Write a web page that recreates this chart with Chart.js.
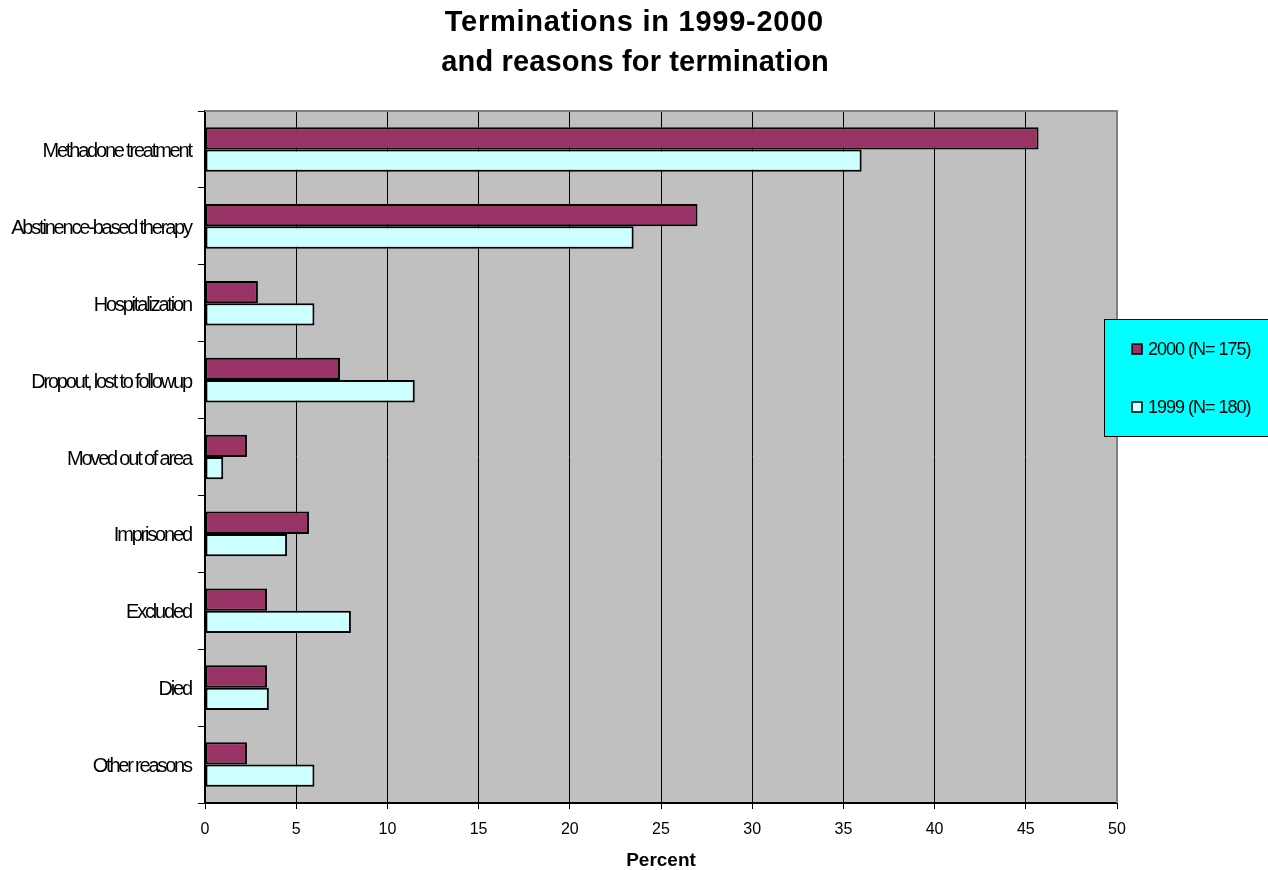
<!DOCTYPE html>
<html>
<head>
<meta charset="utf-8">
<title>Terminations in 1999-2000</title>
<script src="https://cdn.jsdelivr.net/npm/chart.js@4/dist/chart.umd.min.js"></script>
<style>
  html, body { margin: 0; padding: 0; background: #ffffff; }
  #wrap { position: relative; width: 1268px; height: 870px; }
</style>
</head>
<body>
<div id="wrap"><canvas id="chart" width="1268" height="870"></canvas></div>
<script>
// Reasons for termination, percentages per year
const categories = [
  'Methadone treatment',
  'Abstinence-based therapy',
  'Hospitalization',
  'Dropout, lost to followup',
  'Moved out of area',
  'Imprisoned',
  'Excluded',
  'Died',
  'Other reasons'
];
const values2000 = [45.7, 27.0, 2.9, 7.4, 2.3, 5.7, 3.4, 3.4, 2.3];
const values1999 = [36.0, 23.5, 6.0, 11.5, 1.0, 4.5, 8.0, 3.5, 6.0];
const seriesLabels = ['2000 (N= 175)', '1999 (N= 180)'];
const titleLines = ['Terminations in 1999-2000', 'and reasons for termination'];
const xAxisTitle = 'Percent';

const sansFont = '"Liberation Sans", Arial, sans-serif';

// Text with adjusted tracking; falls back to a horizontal stretch
function drawTracked(ctx, text, x, y, spacing, align) {
  ctx.save();
  ctx.textAlign = align;
  if ('letterSpacing' in ctx) {
    ctx.letterSpacing = spacing + 'px';
    let shift = 0;
    if (align === 'right') shift = spacing;
    if (align === 'center') shift = spacing / 2;
    ctx.fillText(text, x + shift, y);
  } else {
    const plain = ctx.measureText(text).width;
    const k = Math.max(0.5, (plain + spacing * text.length) / plain);
    ctx.translate(x, y);
    ctx.scale(k, 1);
    ctx.fillText(text, 0, 0);
  }
  ctx.restore();
}

// Gray plot background plus the gray frame on top and right
const plotFrame = {
  id: 'plotFrame',
  beforeDraw(chart) {
    const { ctx, chartArea: a } = chart;
    ctx.save();
    ctx.fillStyle = '#c0c0c0';
    ctx.fillRect(a.left, a.top, a.right - a.left, a.bottom - a.top);
    ctx.restore();
  },
  afterDraw(chart) {
    const { ctx, chartArea: a } = chart;
    ctx.save();
    ctx.strokeStyle = '#808080';
    ctx.lineWidth = 2;
    ctx.beginPath();
    ctx.moveTo(a.left, a.top);
    ctx.lineTo(a.right, a.top);
    ctx.lineTo(a.right, a.bottom);
    ctx.stroke();
    ctx.restore();
  }
};

// Category names beside the y axis, set tight
const categoryLabels = {
  id: 'categoryLabels',
  afterDraw(chart) {
    const ctx = chart.ctx;
    const y = chart.scales.y;
    ctx.save();
    ctx.fillStyle = '#000000';
    ctx.font = '20px ' + sansFont;
    ctx.textBaseline = 'middle';
    chart.data.labels.forEach((name, i) => {
      drawTracked(ctx, name, y.right - 12, y.getPixelForTick(i) + 2, -2.2, 'right');
    });
    ctx.restore();
  }
};

// Two-line heading
const heading = {
  id: 'heading',
  afterDraw(chart) {
    const ctx = chart.ctx;
    ctx.save();
    ctx.fillStyle = '#000000';
    ctx.font = 'bold 29px ' + sansFont;
    ctx.textBaseline = 'alphabetic';
    drawTracked(ctx, titleLines[0], 634, 31, 0.75, 'center');
    drawTracked(ctx, titleLines[1], 635, 71, 0.15, 'center');
    ctx.restore();
  }
};

// Boxed legend on the right edge
const boxLegend = {
  id: 'boxLegend',
  afterDraw(chart) {
    const ctx = chart.ctx;
    const x = 1104, y = 319, w = 170, h = 118;
    ctx.save();
    ctx.fillStyle = '#00ffff';
    ctx.fillRect(x, y, w, h);
    ctx.strokeStyle = '#000000';
    ctx.lineWidth = 1;
    ctx.strokeRect(x + 0.5, y + 0.5, w, h - 1);
    ctx.font = '18px ' + sansFont;
    ctx.textBaseline = 'middle';
    chart.data.datasets.forEach((ds, i) => {
      const cy = 349 + i * 58;
      ctx.fillStyle = ds.backgroundColor;
      ctx.fillRect(1132, cy - 5, 10, 10);
      ctx.strokeStyle = '#000000';
      ctx.lineWidth = 1.5;
      ctx.strokeRect(1132, cy - 5, 10, 10);
      ctx.fillStyle = '#000000';
      drawTracked(ctx, ds.label, 1148, cy + 1, -1, 'left');
    });
    ctx.restore();
  }
};

new Chart(document.getElementById('chart'), {
  type: 'bar',
  data: {
    labels: categories,
    datasets: [
      {
        label: seriesLabels[0],
        data: values2000,
        backgroundColor: '#993366',
        borderColor: '#000000',
        borderWidth: 2,
        borderSkipped: false,
        categoryPercentage: 0.58,
        barPercentage: 1.0
      },
      {
        label: seriesLabels[1],
        data: values1999,
        backgroundColor: '#ccffff',
        borderColor: '#000000',
        borderWidth: 2,
        borderSkipped: false,
        categoryPercentage: 0.58,
        barPercentage: 1.0
      }
    ]
  },
  options: {
    indexAxis: 'y',
    responsive: false,
    animation: false,
    devicePixelRatio: 1,
    layout: { padding: { top: 111, right: 151, bottom: 0, left: 0 } },
    plugins: {
      legend: { display: false },
      title: { display: false },
      tooltip: { enabled: false }
    },
    scales: {
      x: {
        min: 0,
        max: 50,
        ticks: {
          stepSize: 5,
          color: '#000000',
          padding: 11,
          font: { family: sansFont, size: 16 }
        },
        grid: {
          color: '#000000',
          lineWidth: 1,
          tickLength: 6,
          drawTicks: true
        },
        border: { display: true, color: '#000000', width: 2 },
        title: {
          display: true,
          text: xAxisTitle,
          color: '#000000',
          padding: { top: 0, bottom: 0 },
          font: { family: sansFont, size: 19, weight: 'bold', lineHeight: 1.0 }
        },
        afterFit(scale) { scale.height = 67; }
      },
      y: {
        ticks: { display: false },
        grid: {
          offset: true,
          drawOnChartArea: false,
          drawTicks: true,
          tickLength: 7,
          color: '#000000'
        },
        border: { display: true, color: '#000000', width: 2 },
        afterFit(scale) { scale.width = 205; }
      }
    }
  },
  plugins: [plotFrame, categoryLabels, heading, boxLegend]
});
</script>
</body>
</html>
